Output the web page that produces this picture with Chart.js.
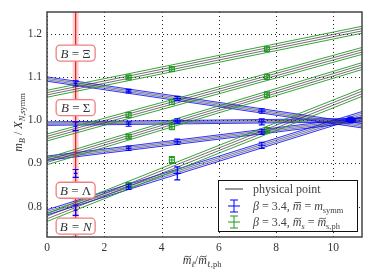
<!DOCTYPE html>
<html>
<head>
<meta charset="utf-8">
<script src="https://cdn.jsdelivr.net/npm/chart.js"></script>
<style>
  html, body { margin: 0; padding: 0; background: #fff; }
  #wrap { width: 374px; height: 280px; }
</style>
</head>
<body>
<div id="wrap"><canvas id="grafico" width="374" height="280"></canvas></div>
<script>
// eixos
const xTicks = [0, 2, 4, 6, 8, 10];
const yTicks = [0.8, 0.9, 1.0, 1.1, 1.2];
const xRange = [0, 11];
const yRange = [0.73, 1.25];

// bandas do ajuste (valor em x=0 e x=11), ordem: Xi, Sigma, Lambda, N
const baryons = ['Ξ', 'Σ', 'Λ', 'N'];
const bandX = [0, 11];
const blueAt0 = [1.095, 0.992, 0.912, 0.787];
const blueAt11 = [0.987, 1.000, 1.002, 1.014];
const blueHalf = [0.005, 0.004, 0.005, 0.006];
const greenAt0 = [1.061, 0.960, 0.905, 0.775];
const greenAt11 = [1.209, 1.160, 1.125, 1.064];
const greenHalf = [0.008, 0.008, 0.008, 0.009];

// pontos beta=3.4, mbar = m_symm
const blueX = [1.0, 2.85, 4.55, 7.5, 10.6];
const blueXErr = [0.03, 0.06, 0.1, 0.1, 0.15];
const blueY = [
  [1.085, 1.067, 1.050, 1.021, 0.998],
  [0.986, 0.991, 0.998, 0.996, 1.000],
  [0.877, 0.935, 0.950, 0.973, 1.001],
  [0.792, 0.846, 0.877, 0.942, 1.003]
];
const blueYErr = [
  [0.006, 0.004, 0.005, 0.005, 0.004],
  [0.010, 0.005, 0.005, 0.007, 0.004],
  [0.009, 0.005, 0.006, 0.006, 0.004],
  [0.012, 0.006, 0.015, 0.007, 0.004]
];

// pontos beta=3.4, ms = ms,ph
const greenX = [2.85, 4.36, 7.68];
const greenY = [
  [1.099, 1.118, 1.164],
  [1.012, 1.042, 1.100],
  [0.962, 0.985, 1.059],
  [0.850, 0.908, 0.977]
];
const greenYErr = [
  [0.004, 0.005, 0.005],
  [0.006, 0.006, 0.006],
  [0.005, 0.007, 0.006],
  [0.006, 0.008, 0.006]
];

// ponto fisico e rotulos
const physX = 1.0;
const labelY = [1.155, 1.029, 0.838, 0.755];

const AZUL = '#0000ff';
const VERDE = '#1f9a1f';
const SERIF = '"Liberation Serif", "DejaVu Serif", serif';

function linha(a, b, cor, largura, extra) {
  return Object.assign({
    type: 'line',
    data: [{ x: bandX[0], y: a }, { x: bandX[1], y: b }],
    borderColor: cor,
    borderWidth: largura,
    pointRadius: 0,
    fill: false,
    tension: 0
  }, extra || {});
}

const datasets = [];
baryons.forEach((b, i) => {
  // banda verde
  datasets.push(linha(greenAt0[i] - greenHalf[i], greenAt11[i] - greenHalf[i], VERDE, 0.9));
  datasets.push(linha(greenAt0[i] + greenHalf[i], greenAt11[i] + greenHalf[i], VERDE, 0.9));
  datasets.push(linha(greenAt0[i] - greenHalf[i] / 3, greenAt11[i] - greenHalf[i] / 3, '#333', 0.7));
  datasets.push(linha(greenAt0[i] + greenHalf[i] / 3, greenAt11[i] + greenHalf[i] / 3, '#333', 0.7));
});
baryons.forEach((b, i) => {
  // banda azul
  datasets.push(linha(blueAt0[i] - blueHalf[i], blueAt11[i] - blueHalf[i], AZUL, 0.8));
  datasets.push(linha(blueAt0[i] + blueHalf[i], blueAt11[i] + blueHalf[i], AZUL, 0.8,
    { fill: '-1', backgroundColor: 'rgba(90,90,255,0.12)' }));
  datasets.push(linha(blueAt0[i] - blueHalf[i] / 3, blueAt11[i] - blueHalf[i] / 3, '#333', 0.6));
  datasets.push(linha(blueAt0[i] + blueHalf[i] / 3, blueAt11[i] + blueHalf[i] / 3, '#333', 0.6));
});

// texto com subscritos e acentos (p.a = '~' ou '-')
function mathText(ctx, parts, x, y, size, align) {
  const fontOf = p => (p.i ? 'italic ' : '') + (p.s ? size * 0.7 : size) + 'px ' + SERIF;
  let total = 0;
  parts.forEach(p => { ctx.font = fontOf(p); total += ctx.measureText(p.t).width; });
  let cx = align === 'center' ? x - total / 2 : x;
  ctx.textBaseline = 'alphabetic';
  ctx.textAlign = 'left';
  parts.forEach(p => {
    ctx.font = fontOf(p);
    const w = ctx.measureText(p.t).width;
    ctx.fillText(p.t, cx, y + (p.s ? size * 0.25 : 0));
    if (p.a) {
      const mx = cx + w / 2 + size * 0.06;
      const my = y - size * 0.62;
      ctx.save();
      ctx.strokeStyle = ctx.fillStyle;
      ctx.lineWidth = 0.9;
      ctx.beginPath();
      if (p.a === '~') {
        const hw = w * 0.4;
        ctx.moveTo(mx - hw, my + 0.8);
        ctx.bezierCurveTo(mx - hw * 0.4, my - 2, mx + hw * 0.4, my + 2, mx + hw, my - 0.8);
      } else {
        ctx.moveTo(mx - w * 0.38, my); ctx.lineTo(mx + w * 0.38, my);
      }
      ctx.stroke();
      ctx.restore();
    }
    cx += w;
  });
  return total;
}

function errBar(ctx, px, py, y0, y1, x0, x1, cap) {
  ctx.beginPath();
  ctx.moveTo(px, y0); ctx.lineTo(px, y1);
  ctx.moveTo(px - cap, y0); ctx.lineTo(px + cap, y0);
  ctx.moveTo(px - cap, y1); ctx.lineTo(px + cap, y1);
  ctx.moveTo(x0, py); ctx.lineTo(x1, py);
  ctx.stroke();
}

const pluginExtra = {
  id: 'extra',
  beforeDatasetsDraw(chart) {
    const { ctx, chartArea: a, scales: { x, y } } = chart;
    ctx.save();
    // grade pontilhada
    ctx.strokeStyle = '#222';
    ctx.lineWidth = 1;
    ctx.setLineDash([1, 3]);
    ctx.beginPath();
    xTicks.forEach(v => {
      const px = Math.round(x.getPixelForValue(v)) + 0.5;
      ctx.moveTo(px, a.top); ctx.lineTo(px, a.bottom);
    });
    yTicks.forEach(v => {
      const py = Math.round(y.getPixelForValue(v)) + 0.5;
      ctx.moveTo(a.left, py); ctx.lineTo(a.right, py);
    });
    ctx.stroke();
    ctx.setLineDash([]);
    // faixa do ponto fisico
    const px = x.getPixelForValue(physX);
    ctx.fillStyle = 'rgba(255,130,130,0.4)';
    ctx.fillRect(px - 3, a.top, 6, a.bottom - a.top);
    ctx.restore();
  },
  afterDatasetsDraw(chart) {
    const { ctx, chartArea: a, scales: { x, y } } = chart;
    ctx.save();
    ctx.beginPath();
    ctx.rect(a.left, a.top, a.right - a.left, a.bottom - a.top);
    ctx.clip();

    // linha vermelha
    const px = x.getPixelForValue(physX);
    ctx.strokeStyle = '#e02020';
    ctx.lineWidth = 1.2;
    ctx.beginPath(); ctx.moveTo(px, a.top); ctx.lineTo(px, a.bottom); ctx.stroke();

    // pontos verdes
    ctx.strokeStyle = VERDE;
    ctx.lineWidth = 1;
    greenY.forEach((serie, i) => {
      serie.forEach((v, j) => {
        const cx = x.getPixelForValue(greenX[j]);
        const cy = y.getPixelForValue(v);
        const e = greenYErr[i][j];
        errBar(ctx, cx, cy, y.getPixelForValue(v + e), y.getPixelForValue(v - e), cx - 3, cx + 3, 3);
        ctx.strokeRect(cx - 2.5, cy - 2.5, 5, 5);
      });
    });

    // pontos azuis
    ctx.strokeStyle = AZUL;
    ctx.lineWidth = 1.2;
    blueY.forEach((serie, i) => {
      serie.forEach((v, j) => {
        const cx = x.getPixelForValue(blueX[j]);
        const cy = y.getPixelForValue(v);
        const e = blueYErr[i][j];
        const ex = blueXErr[j];
        errBar(ctx, cx, cy, y.getPixelForValue(v + e), y.getPixelForValue(v - e),
          x.getPixelForValue(blueX[j] - ex) - 1, x.getPixelForValue(blueX[j] + ex) + 1, 3);
      });
    });

    // rotulos B = ...
    baryons.forEach((b, i) => {
      const cy = y.getPixelForValue(labelY[i]);
      const w = 39, h = 16;
      const bx = px - w / 2, by = cy - h / 2;
      ctx.beginPath();
      ctx.roundRect(bx, by, w, h, 4);
      ctx.fillStyle = '#fff';
      ctx.fill();
      ctx.strokeStyle = '#f08080';
      ctx.lineWidth = 1.3;
      ctx.stroke();
      ctx.fillStyle = '#333';
      mathText(ctx, [{ t: 'B', i: true }, { t: ' = ' + b, i: b === 'N' }], px, cy + 4.5, 13, 'center');
    });
    ctx.restore();

    // moldura
    ctx.save();
    ctx.strokeStyle = '#444';
    ctx.lineWidth = 1.5;
    ctx.strokeRect(a.left, a.top, a.right - a.left, a.bottom - a.top);

    // legenda
    const lx = 218, ly = 180, lw = 139, lh = 51;
    ctx.fillStyle = '#fff';
    ctx.fillRect(lx, ly, lw, lh);
    ctx.strokeStyle = '#111';
    ctx.lineWidth = 1;
    ctx.strokeRect(lx + 0.5, ly + 0.5, lw, lh);
    ctx.strokeStyle = '#333';
    ctx.beginPath(); ctx.moveTo(225, 189); ctx.lineTo(243, 189); ctx.stroke();
    ctx.strokeStyle = AZUL;
    errBar(ctx, 234, 206, 200, 212, 228, 240, 4);
    ctx.strokeStyle = VERDE;
    errBar(ctx, 234, 222, 216, 228, 228, 240, 4);
    ctx.fillStyle = '#444';
    mathText(ctx, [{ t: 'physical point' }], 253, 193, 12);
    mathText(ctx, [{ t: 'β', i: true }, { t: ' = 3.4, ' }, { t: 'm', i: true, a: '-' }, { t: ' = ' },
      { t: 'm', i: true }, { t: 'symm', s: true }], 253, 210, 12);
    mathText(ctx, [{ t: 'β', i: true }, { t: ' = 3.4, ' }, { t: 'm', i: true, a: '~' }, { t: 's', i: true, s: true },
      { t: ' = ' }, { t: 'm', i: true, a: '~' }, { t: 's,ph', s: true }], 253, 226, 12);

    // titulos dos eixos
    ctx.fillStyle = '#333';
    mathText(ctx, [{ t: 'm', i: true, a: '~' }, { t: 'ℓ', i: true, s: true }, { t: '/' },
      { t: 'm', i: true, a: '~' }, { t: 'ℓ,ph', s: true }], 202, 264, 12, 'center');
    ctx.translate(22, (a.top + a.bottom) / 2 - 2);
    ctx.rotate(-Math.PI / 2);
    mathText(ctx, [{ t: 'm', i: true }, { t: 'B', i: true, s: true }, { t: ' / ' }, { t: 'X', i: true },
      { t: 'N', i: true, s: true }, { t: ',symm', s: true }], 0, 0, 12, 'center');
    ctx.restore();
  }
};

const chart = new Chart(document.getElementById('grafico').getContext('2d'), {
  type: 'scatter',
  data: { datasets: datasets },
  options: {
    responsive: false,
    animation: false,
    layout: { padding: { top: 12, right: 12, left: 0, bottom: 0 } },
    plugins: { legend: { display: false }, tooltip: { enabled: false } },
    scales: {
      x: {
        type: 'linear',
        min: xRange[0],
        max: xRange[1],
        afterBuildTicks: s => { s.ticks = xTicks.map(v => ({ value: v })); },
        afterFit: s => { s.height = 43; },
        grid: { display: false, drawTicks: false },
        border: { display: false },
        ticks: { color: '#333', padding: 4, font: { family: SERIF, size: 11.5 }, callback: v => String(v) }
      },
      y: {
        min: yRange[0],
        max: yRange[1],
        afterBuildTicks: s => { s.ticks = yTicks.map(v => ({ value: v })); },
        afterFit: s => { s.width = 47; },
        grid: { display: false, drawTicks: false },
        border: { display: false },
        ticks: { color: '#333', padding: 5, font: { family: SERIF, size: 11.5 }, callback: v => v.toFixed(1) }
      }
    }
  },
  plugins: [pluginExtra]
});
</script>
</body>
</html>
